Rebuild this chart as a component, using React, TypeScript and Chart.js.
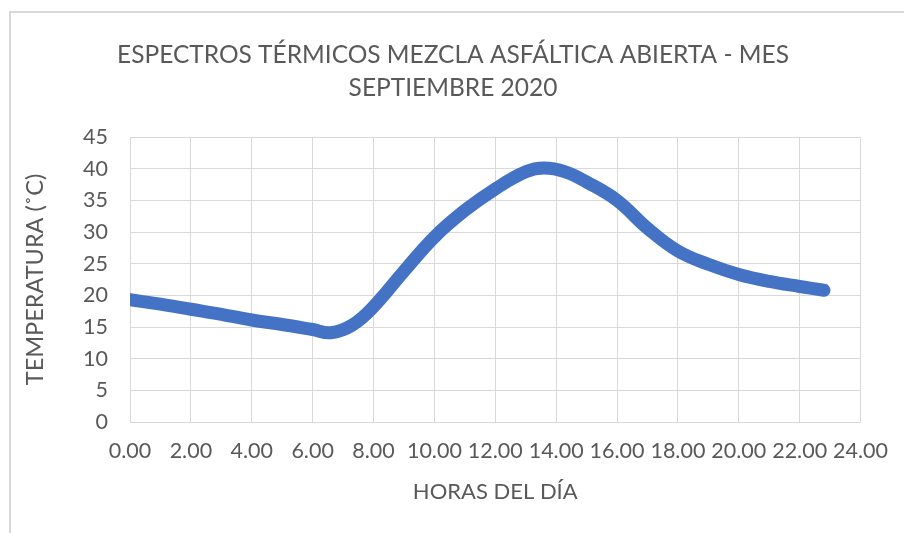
import React, { useEffect, useRef } from "react";
import { Chart, registerables } from "chart.js";

Chart.register(...registerables);

const titleLines = ["ESPECTROS TÉRMICOS MEZCLA ASFÁLTICA ABIERTA - MES", "SEPTIEMBRE 2020"];
const xAxisTitle = "HORAS DEL DÍA";
const yAxisTitle = "TEMPERATURA (˚C)";

const hours = [0, 1, 2, 3, 4, 5, 6, 6.6, 7.3, 8, 9, 10, 11, 12, 13, 13.6, 14.3, 15, 16, 17, 18, 19, 20, 21, 22, 22.8];
const temps = [19.3, 18.6, 17.8, 17.0, 16.1, 15.4, 14.6, 14.1, 15.3, 18.2, 23.8, 29.2, 33.4, 36.8, 39.5, 40.1, 39.5, 37.9, 35.0, 30.6, 27.0, 24.9, 23.3, 22.2, 21.4, 20.8];

const xMin = 0;
const xMax = 24;
const xStep = 2;
const yMin = 0;
const yMax = 45;
const yStep = 5;

const FONT = "Lato, 'Open Sans', sans-serif";
const TEXT = "#595959";
const GRID = "#d9d9d9";
const LINE = "#4472C4";

const framePlugin = {
  id: "frame",
  beforeDraw(chart: any) {
    const ctx = chart.ctx;
    ctx.save();
    ctx.fillStyle = "#ffffff";
    ctx.fillRect(0, 0, chart.width, chart.height);
    ctx.strokeStyle = GRID;
    ctx.lineWidth = 2;
    ctx.strokeRect(10, 12, chart.width + 20, chart.height + 20);
    ctx.restore();
  },
};

export default function App() {
  const ref = useRef<HTMLCanvasElement | null>(null);

  useEffect(() => {
    if (!ref.current) return;
    const chart = new Chart(ref.current, {
      type: "line",
      data: {
        datasets: [
          {
            data: hours.map((h, i) => ({ x: h, y: temps[i] })),
            borderColor: LINE,
            backgroundColor: LINE,
            borderWidth: 13,
            borderCapStyle: "round",
            borderJoinStyle: "round",
            pointRadius: 0,
            tension: 0.4,
            fill: false,
          },
        ],
      },
      options: {
        responsive: false,
        animation: false,
        layout: { padding: { left: 12, right: 10, top: 0, bottom: 0 } },
        plugins: {
          legend: { display: false },
          tooltip: { enabled: false },
          title: {
            display: true,
            text: titleLines,
            color: TEXT,
            font: { family: FONT, size: 24.5, weight: "normal", lineHeight: "33px" },
            padding: { top: 39, bottom: 32 },
          },
        },
        scales: {
          x: {
            type: "linear",
            min: xMin,
            max: xMax,
            grid: { color: GRID, lineWidth: 1, drawTicks: false },
            border: { color: GRID, width: 1 },
            ticks: {
              stepSize: xStep,
              color: TEXT,
              padding: 16,
              maxRotation: 0,
              autoSkip: false,
              font: { family: FONT, size: 21.5 },
              callback: (v: any) => Number(v).toFixed(2),
            },
            title: {
              display: true,
              text: xAxisTitle,
              color: TEXT,
              font: { family: FONT, size: 22 },
              padding: { top: 28, bottom: 28 },
            },
            afterFit: (s: any) => {
              s.height = 111;
            },
          },
          y: {
            type: "linear",
            min: yMin,
            max: yMax,
            grid: { color: GRID, lineWidth: 1, drawTicks: false },
            border: { color: GRID, width: 1 },
            ticks: {
              stepSize: yStep,
              color: TEXT,
              padding: 22,
              font: { family: FONT, size: 21.5 },
            },
            title: {
              display: true,
              text: yAxisTitle,
              color: TEXT,
              font: { family: FONT, size: 23.5 },
              padding: { top: 9, bottom: 9 },
            },
            afterFit: (s: any) => {
              s.width = 118;
            },
          },
          yRight: {
            type: "linear",
            position: "right",
            display: true,
            grid: { display: false, drawTicks: false },
            border: { display: false },
            ticks: { display: false },
            afterFit: (s: any) => {
              s.width = 32;
            },
          },
        },
      },
      plugins: [framePlugin],
    } as any);
    return () => chart.destroy();
  }, []);

  return (
    <div style={{ position: "fixed", left: 0, top: 0, width: 904, height: 533 }}>
      <canvas ref={ref} width={904} height={533} style={{ width: 904, height: 533, display: "block" }} />
    </div>
  );
}
